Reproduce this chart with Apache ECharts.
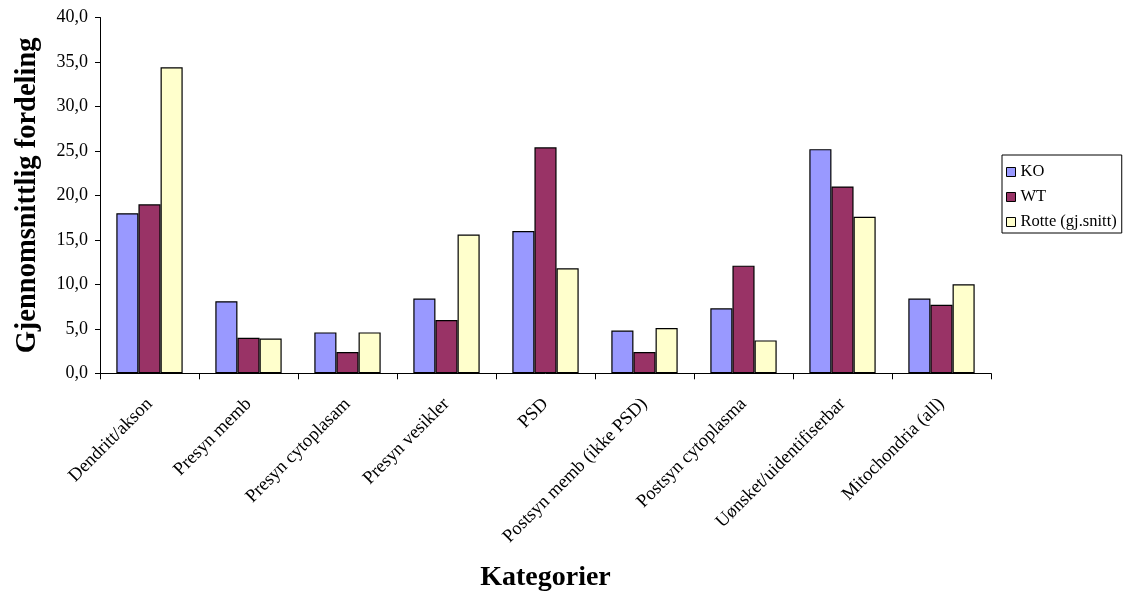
<!DOCTYPE html>
<html>
<head>
<meta charset="utf-8">
<script src="https://cdn.jsdelivr.net/npm/echarts@6/dist/echarts.min.js"></script>
<style>
  html, body { margin: 0; padding: 0; background: #fff; }
  #chart { width: 1125px; height: 594px; }
</style>
</head>
<body>
<div id="chart"></div>
<script>
// Categories along the x axis
const categories = [
  'Dendritt/akson', 'Presyn memb', 'Presyn cytoplasam', 'Presyn vesikler', 'PSD',
  'Postsyn memb (ikke PSD)', 'Postsyn cytoplasma', 'Uønsket/uidentifiserbar', 'Mitochondria (all)'
];
// Average distribution (%) per group
const koValues    = [18.0, 8.1, 4.6, 8.4, 16.0, 4.8, 7.3, 25.2, 8.4];
const wtValues    = [19.0, 4.0, 2.4, 6.0, 25.4, 2.4, 12.1, 21.0, 7.7];
const rotteValues = [34.4, 3.9, 4.6, 15.6, 11.8, 5.1, 3.7, 17.6, 10.0];
const seriesNames = ['KO', 'WT', 'Rotte (gj.snitt)'];
const seriesColors = ['#9999FF', '#993366', '#FFFFCC'];

const FONT = '"Liberation Serif", "Times New Roman", serif';

const chart = echarts.init(document.getElementById('chart'), null, { renderer: 'canvas' });

function bar(name, data, color) {
  return {
    name: name,
    type: 'bar',
    data: data,
    barGap: '0%',
    barCategoryGap: '33%',
    itemStyle: { color: color, borderColor: '#000', borderWidth: 1.2 },
    emphasis: { disabled: true }
  };
}

chart.setOption({
  animation: false,
  backgroundColor: '#fff',
  textStyle: { fontFamily: FONT, color: '#000' },
  grid: {
    left: 100, right: 134, top: 17.5, bottom: 220.7,
    containLabel: false,
    outerBoundsMode: 'none'
  },
  legend: {
    orient: 'vertical',
    left: 1002,
    top: 155,
    padding: [8.5, 5, 2.5, 4],
    itemGap: 8,
    itemWidth: 9,
    itemHeight: 9,
    icon: 'rect',
    borderColor: '#000',
    borderWidth: 1,
    backgroundColor: '#fff',
    itemStyle: { borderColor: '#000', borderWidth: 1 },
    textStyle: { fontFamily: FONT, fontSize: 16.5, color: '#000' },
    data: seriesNames
  },
  xAxis: {
    type: 'category',
    data: categories,
    name: 'Kategorier',
    nameLocation: 'middle',
    nameGap: 190,
    nameTextStyle: { fontFamily: FONT, fontSize: 28, fontWeight: 'bold', color: '#000' },
    axisLine: { lineStyle: { color: '#000', width: 1 } },
    axisTick: { show: true, alignWithLabel: false, length: 6, lineStyle: { color: '#000' } },
    axisLabel: { rotate: 45, interval: 0, margin: 28, fontFamily: FONT, fontSize: 18.5, color: '#000' },
    splitLine: { show: false }
  },
  yAxis: {
    type: 'value',
    min: 0,
    max: 40,
    interval: 5,
    name: 'Gjennomsnittlig fordeling',
    nameLocation: 'middle',
    nameGap: 58,
    nameTextStyle: { fontFamily: FONT, fontSize: 28.5, fontWeight: 'bold', color: '#000' },
    axisLine: { show: true, lineStyle: { color: '#000', width: 1 } },
    axisTick: { show: true, length: 5, lineStyle: { color: '#000' } },
    axisLabel: {
      margin: 12,
      fontFamily: FONT,
      fontSize: 18,
      color: '#000',
      formatter: v => v.toFixed(1).replace('.', ',')
    },
    splitLine: { show: false }
  },
  series: [
    bar(seriesNames[0], koValues, seriesColors[0]),
    bar(seriesNames[1], wtValues, seriesColors[1]),
    bar(seriesNames[2], rotteValues, seriesColors[2])
  ]
});
</script>
</body>
</html>
